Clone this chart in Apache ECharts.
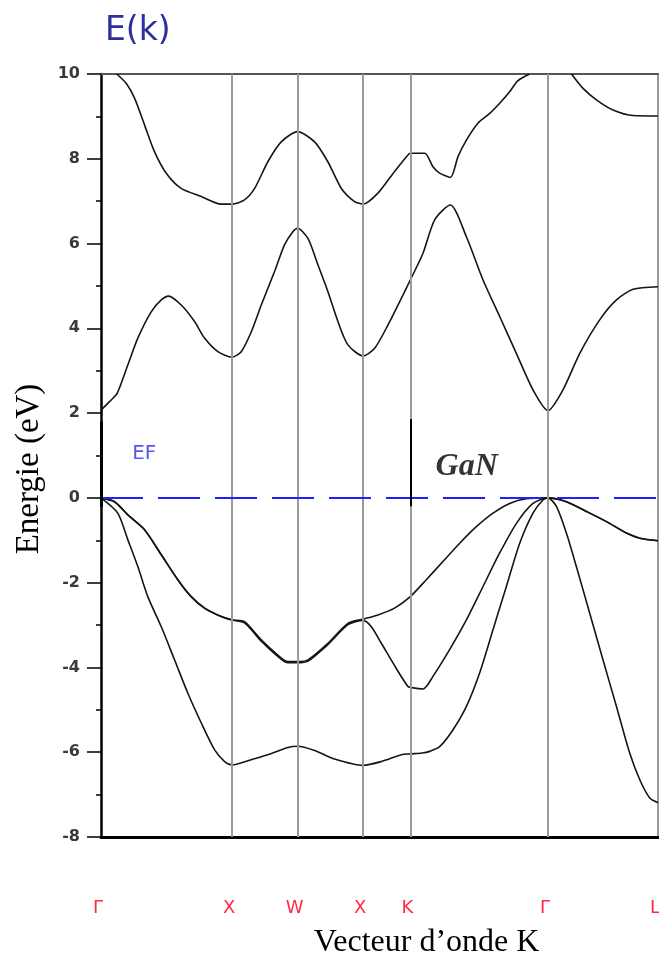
<!DOCTYPE html>
<html><head><meta charset="utf-8">
<script src="https://cdn.jsdelivr.net/npm/echarts@6/dist/echarts.min.js"></script>
<style>html,body{margin:0;padding:0;background:#fff;overflow:hidden;width:659px;height:962px}#c{position:absolute;left:0;top:0;width:659px;height:962px}</style>
</head><body><div id="c"></div>
<script>
// ---- data ----
const kTicks  = [0, 1, 1.5, 2, 2.36, 3.41, 4.25];
const kLabels = ['Γ', 'X', 'W', 'X', 'K', 'Γ', 'L'];
const guideLines = [1, 1.5, 2, 2.36, 3.41];
const fermiLevel = 0;
const gapMarkers = [[0, 1.80, -0.21], [2.36, 1.86, -0.2]];
const notes = [['EF', 0.33, 1.04], ['GaN', 2.79, 0.74]];

const valence1 = [[0,0],[0.128,-0.36],[0.205,-0.99],[0.281,-1.62],[0.357,-2.33],[0.46,-3.04],[0.561,-3.82],[0.663,-4.61],[0.765,-5.31],[0.866,-5.94],[0.943,-6.22],[1,-6.30],[1.121,-6.20],[1.273,-6.06],[1.426,-5.89],[1.5,-5.86],[1.63,-5.96],[1.782,-6.16],[2,-6.31],[2.139,-6.22],[2.292,-6.06],[2.36,-6.04],[2.45,-6.02],[2.508,-5.98],[2.584,-5.87],[2.686,-5.47],[2.788,-4.92],[2.889,-4.13],[2.991,-3.11],[3.093,-2.09],[3.195,-1.07],[3.296,-0.36],[3.372,-0.05],[3.41,0],[3.475,-0.20],[3.551,-0.83],[3.627,-1.62],[3.729,-2.72],[3.83,-3.82],[3.933,-4.92],[4.034,-6.02],[4.111,-6.65],[4.187,-7.08],[4.25,-7.19]];

const valence2 = [[0,0],[0.103,-0.09],[0.205,-0.40],[0.332,-0.75],[0.46,-1.34],[0.586,-1.93],[0.688,-2.33],[0.79,-2.60],[0.918,-2.80],[1,-2.88],[1.095,-2.95],[1.223,-3.38],[1.376,-3.81],[1.426,-3.89],[1.5,-3.89],[1.579,-3.85],[1.731,-3.46],[1.884,-2.99],[2,-2.89],[2.063,-3.04],[2.139,-3.43],[2.26,-4.06],[2.342,-4.45],[2.36,-4.47],[2.457,-4.51],[2.533,-4.21],[2.66,-3.58],[2.788,-2.88],[2.915,-2.09],[3.042,-1.30],[3.17,-0.60],[3.296,-0.13],[3.41,0],[3.551,-0.09],[3.704,-0.32],[3.857,-0.56],[4.009,-0.83],[4.111,-0.95],[4.25,-1.01]];

const valence3 = [[0,0],[0.103,-0.09],[0.205,-0.40],[0.332,-0.75],[0.46,-1.34],[0.586,-1.93],[0.688,-2.33],[0.79,-2.60],[0.918,-2.80],[1,-2.88],[1.095,-2.92],[1.223,-3.35],[1.376,-3.78],[1.426,-3.86],[1.5,-3.86],[1.579,-3.82],[1.731,-3.43],[1.884,-2.96],[2,-2.86],[2.113,-2.76],[2.24,-2.60],[2.36,-2.33],[2.482,-1.93],[2.609,-1.50],[2.737,-1.07],[2.864,-0.68],[2.991,-0.36],[3.118,-0.13],[3.245,-0.02],[3.41,0],[3.551,-0.09],[3.704,-0.32],[3.857,-0.56],[4.009,-0.83],[4.111,-0.95],[4.25,-1.01]];

const conduction1 = [[0,2.07],[0.065,2.27],[0.124,2.47],[0.205,3.14],[0.281,3.77],[0.383,4.39],[0.46,4.67],[0.515,4.76],[0.612,4.55],[0.714,4.16],[0.79,3.77],[0.892,3.45],[1,3.32],[1.07,3.45],[1.147,3.92],[1.223,4.55],[1.324,5.34],[1.40,5.97],[1.464,6.28],[1.5,6.36],[1.579,6.12],[1.655,5.50],[1.731,4.87],[1.808,4.16],[1.884,3.61],[2,3.35],[2.088,3.53],[2.19,4.08],[2.292,4.71],[2.36,5.14],[2.457,5.77],[2.546,6.56],[2.666,6.91],[2.788,6.16],[2.915,5.14],[3.042,4.28],[3.169,3.41],[3.296,2.55],[3.41,2.06],[3.525,2.55],[3.653,3.41],[3.805,4.20],[3.933,4.67],[4.06,4.92],[4.25,4.98]];

const conduction2 = [[0.12,10],[0.192,9.78],[0.256,9.43],[0.332,8.80],[0.408,8.17],[0.498,7.66],[0.612,7.30],[0.765,7.11],[0.917,6.93],[1,6.93],[1.095,7.03],[1.172,7.30],[1.273,7.93],[1.375,8.40],[1.5,8.64],[1.63,8.40],[1.731,7.93],[1.834,7.30],[1.935,6.99],[2,6.93],[2.113,7.19],[2.24,7.70],[2.342,8.09],[2.36,8.13],[2.47,8.13],[2.533,7.81],[2.584,7.66],[2.666,7.56],[2.724,8.05],[2.788,8.44],[2.876,8.84],[2.966,9.07],[3.042,9.31],[3.118,9.58],[3.18,9.84],[3.27,10]];

const conduction3 = [[3.59,10],[3.678,9.66],[3.78,9.39],[3.907,9.15],[4.06,9.02],[4.25,9.01]];

const bands = [valence1, valence2, valence3, conduction1, conduction2, conduction3];

// ---- chart ----
const chart = echarts.init(document.getElementById('c'), null, {renderer: 'canvas', width: 659, height: 962});
const kMin = kTicks[0], kMax = kTicks[kTicks.length - 1];

const bandSeries = bands.map(d => ({
  type: 'line', data: d, symbol: 'none', smooth: 0.25,
  lineStyle: {color: '#151515', width: 1.6}, z: 3, silent: true, clip: true
}));

const option = {
  animation: false,
  backgroundColor: '#fff',
  title: {
    text: 'E(k)', left: 100, top: 10,
    textStyle: {fontFamily: 'DejaVu Sans', fontSize: 33, fontWeight: 'normal', color: '#2e2e9e'}
  },
  grid: {left: 101, right: 1, top: 74, bottom: 125, containLabel: false, outerBoundsMode: 'none'},
  xAxis: [{
    type: 'value', min: kMin, max: kMax, position: 'bottom',
    name: 'Vecteur d’onde K', nameLocation: 'middle', nameGap: 90,
    nameTextStyle: {fontFamily: 'Liberation Serif', fontSize: 32, color: '#000', padding: [0, 0, 0, 94]},
    axisLine: {onZero: false, lineStyle: {color: '#000', width: 3}},
    axisTick: {show: false},
    splitLine: {show: false},
    axisLabel: {
      customValues: kTicks, margin: 62, padding: [0, 6, 0, 0],
      fontFamily: 'DejaVu Sans', fontSize: 18, color: '#ff2a48',
      formatter: v => { const i = kTicks.findIndex(t => Math.abs(t - v) < 1e-6); return i >= 0 ? kLabels[i] : ''; }
    }
  }, {
    type: 'value', min: kMin, max: kMax, position: 'top',
    axisLine: {onZero: false, lineStyle: {color: '#555', width: 2}},
    axisTick: {show: false}, axisLabel: {show: false}, splitLine: {show: false}
  }],
  yAxis: [{
    type: 'value', min: -8, max: 10, interval: 2, position: 'left',
    name: 'Energie (eV)', nameLocation: 'middle', nameGap: 55,
    nameTextStyle: {fontFamily: 'Liberation Serif', fontSize: 33, color: '#000', padding: [0, 27, 0, 0]},
    axisLine: {onZero: false, lineStyle: {color: '#000', width: 2.5}},
    axisTick: {show: true, length: 14, lineStyle: {color: '#000', width: 1.5}},
    minorTick: {show: true, splitNumber: 2, length: 5, lineStyle: {color: '#000', width: 1.5}},
    splitLine: {show: false},
    axisLabel: {margin: 21, fontFamily: 'DejaVu Sans', fontWeight: 'bold', fontSize: 16, color: '#3a3a3a'}
  }, {
    type: 'value', min: -8, max: 10, position: 'right',
    axisLine: {onZero: false, lineStyle: {color: '#999', width: 2}},
    axisTick: {show: false}, axisLabel: {show: false}, splitLine: {show: false}
  }],
  series: [
    {
      type: 'line', data: [], z: 1, silent: true,
      markLine: {
        silent: true, symbol: ['none', 'none'], label: {show: false}, animation: false,
        lineStyle: {color: '#9a9a9a', width: 2, type: 'solid'},
        data: guideLines.map(v => ({xAxis: v}))
      }
    },
    ...bandSeries,
    {
      type: 'line', data: [], z: 4, silent: true,
      markLine: {
        silent: true, symbol: ['none', 'none'], label: {show: false}, animation: false,
        data: [
          {yAxis: fermiLevel, lineStyle: {color: '#1f1fff', width: 2, type: [42, 15]}},
          ...gapMarkers.map(g => [
            {coord: [g[0], g[1]], lineStyle: {color: '#000', width: g[0] === 0 ? 3 : 2, type: 'solid'}},
            {coord: [g[0], g[2]]}
          ])
        ]
      }
    },
    {
      type: 'scatter', symbolSize: 0, z: 5, silent: true,
      data: notes.map(n => ({
        value: [n[1], n[2]], name: n[0],
        label: n[0] === 'EF'
          ? {show: true, position: 'inside', formatter: n[0], fontFamily: 'DejaVu Sans', fontSize: 20, color: '#2a2af0'}
          : {show: true, position: 'inside', formatter: n[0], fontFamily: 'Liberation Serif', fontStyle: 'italic', fontWeight: 'bold', fontSize: 32, color: '#000'}
      }))
    }
  ]
};
chart.setOption(option);
</script>
</body></html>
